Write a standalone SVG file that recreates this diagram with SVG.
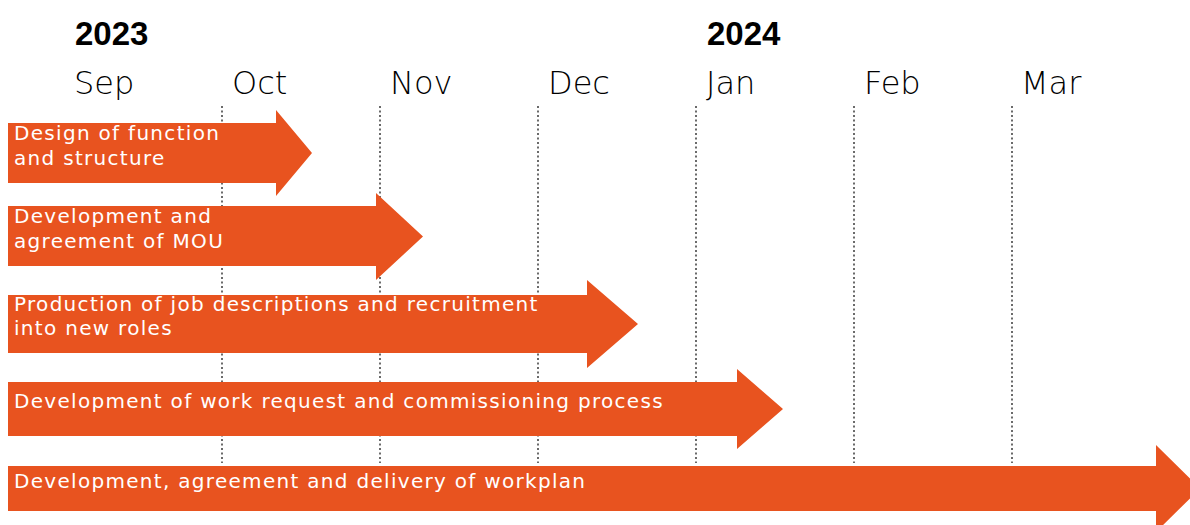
<svg xmlns="http://www.w3.org/2000/svg" width="1190" height="525" viewBox="0 0 1190 525">
  <style>
    .year { font-family: "Liberation Sans", Arial, sans-serif; font-weight: bold; font-size: 33px; fill: #000; }
    .month { font-family: "DejaVu Sans", sans-serif; font-weight: 200; font-size: 32px; fill: #000; }
    .grid { stroke: #3a3a3a; stroke-width: 1.5; stroke-dasharray: 2 2.5; fill: none; }
    .bar { fill: #E8531F; }
    .label { font-family: "DejaVu Sans", Verdana, sans-serif; font-size: 20px; fill: #fff; letter-spacing: 1.3px; }
  </style>
  <rect width="1190" height="525" fill="#fff"/>

  <!-- year headings -->
  <text class="year" x="75" y="45">2023</text>
  <text class="year" x="707" y="45">2024</text>

  <!-- month headings -->
  <g id="months">
    <text class="month" x="74" y="94">Sep</text>
    <text class="month" x="232" y="94">Oct</text>
    <text class="month" x="390" y="94">Nov</text>
    <text class="month" x="548" y="94">Dec</text>
    <text class="month" x="706" y="94">Jan</text>
    <text class="month" x="864" y="94">Feb</text>
    <text class="month" x="1021" y="94">Mar</text>
  </g>

  <!-- month dividers -->
  <g id="dividers">
    <line class="grid" x1="222" y1="106" x2="222" y2="463"/>
    <line class="grid" x1="380" y1="106" x2="380" y2="463"/>
    <line class="grid" x1="538" y1="106" x2="538" y2="463"/>
    <line class="grid" x1="696" y1="106" x2="696" y2="463"/>
    <line class="grid" x1="854" y1="106" x2="854" y2="463"/>
    <line class="grid" x1="1012" y1="106" x2="1012" y2="463"/>
  </g>

  <!-- work streams -->
  <g id="task1">
    <polygon class="bar" points="8,123 276,123 276,110 312,153 276,196 276,183 8,183"/>
    <text class="label" x="14" y="140">Design of function</text>
    <text class="label" x="14" y="165">and structure</text>
  </g>
  <g id="task2">
    <polygon class="bar" points="8,206 376,206 376,193 423,236.5 376,280 376,266 8,266"/>
    <text class="label" x="14" y="223">Development and</text>
    <text class="label" x="14" y="248">agreement of MOU</text>
  </g>
  <g id="task3">
    <polygon class="bar" points="8,295 587,295 587,280 638,324 587,368 587,353 8,353"/>
    <text class="label" x="14" y="311">Production of job descriptions and recruitment</text>
    <text class="label" x="14" y="335">into new roles</text>
  </g>
  <g id="task4">
    <polygon class="bar" points="8,382 737,382 737,369 783,409 737,449 737,436 8,436"/>
    <text class="label" x="14" y="408">Development of work request and commissioning process</text>
  </g>
  <g id="task5">
    <polygon class="bar" points="8,466 1156,466 1156,445 1200,488.5 1156,532 1156,511 8,511"/>
    <text class="label" x="14" y="488">Development, agreement and delivery of workplan</text>
  </g>
</svg>
